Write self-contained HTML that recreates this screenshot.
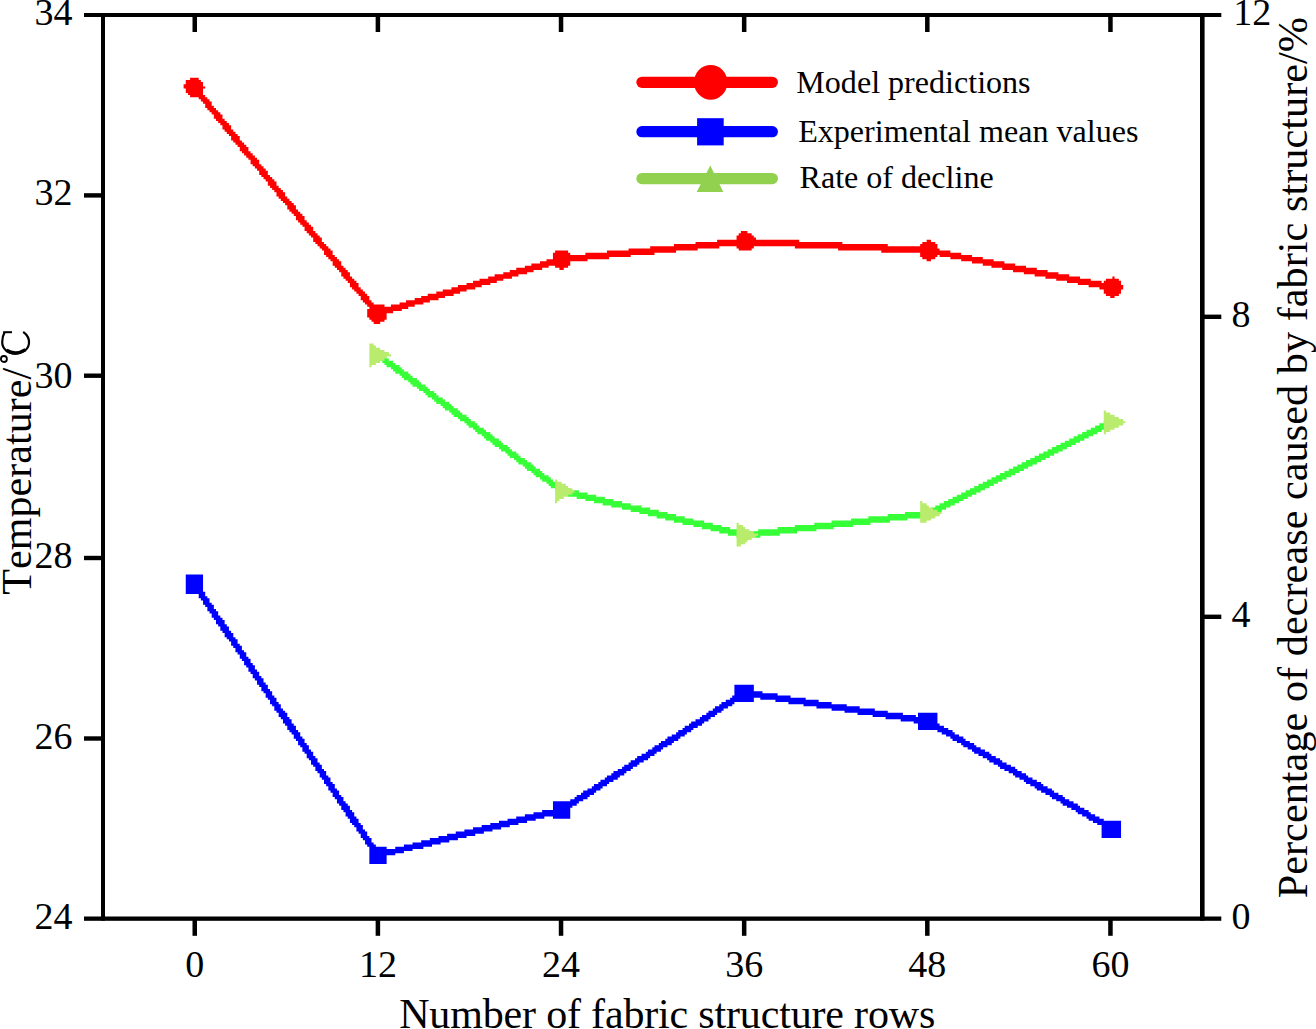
<!DOCTYPE html>
<html><head><meta charset="utf-8"><title>chart</title>
<style>
html,body{margin:0;padding:0;background:#fff;}
body{width:1316px;height:1029px;overflow:hidden;position:relative;font-family:"Liberation Serif", serif;}
svg{position:absolute;left:0;top:0;display:block;}
text{font-family:"Liberation Serif", serif;fill:#000;font-kerning:none;}
.tk{font-size:38px;}
.ax{font-size:41.8px;}
.lg{font-size:32.1px;}
</style></head><body>
<svg width="1316" height="1029" viewBox="0 0 1316 1029">
<rect x="0" y="0" width="1316" height="1029" fill="#fff"/>

<g fill="#000">
<rect x="84" y="13" width="1137.3" height="4"/>
<rect x="84" y="916.5" width="1137.3" height="4.3"/>
<rect x="101" y="13" width="4" height="907.6"/>
<rect x="1200" y="13" width="4.6" height="907.6"/>
<rect x="192.50" y="17" width="4.5" height="15"/>
<rect x="192.50" y="920" width="4.5" height="15.8"/>
<rect x="375.64" y="17" width="4.5" height="15"/>
<rect x="375.64" y="920" width="4.5" height="15.8"/>
<rect x="558.78" y="17" width="4.5" height="15"/>
<rect x="558.78" y="920" width="4.5" height="15.8"/>
<rect x="741.92" y="17" width="4.5" height="15"/>
<rect x="741.92" y="920" width="4.5" height="15.8"/>
<rect x="925.06" y="17" width="4.5" height="15"/>
<rect x="925.06" y="920" width="4.5" height="15.8"/>
<rect x="1108.20" y="17" width="4.5" height="15"/>
<rect x="1108.20" y="920" width="4.5" height="15.8"/>
<rect x="84" y="193.20" width="18" height="4.4"/>
<rect x="84" y="373.50" width="18" height="4.4"/>
<rect x="84" y="555.80" width="18" height="4.4"/>
<rect x="84" y="736.30" width="18" height="4.4"/>
<rect x="1204" y="314.60" width="17.3" height="4.4"/>
<rect x="1204" y="614.60" width="17.3" height="4.4"/>
</g>
<text class="tk" x="72.5" y="25.30" text-anchor="end">34</text>
<text class="tk" x="72.5" y="205.45" text-anchor="end">32</text>
<text class="tk" x="72.5" y="388.00" text-anchor="end">30</text>
<text class="tk" x="72.5" y="568.45" text-anchor="end">28</text>
<text class="tk" x="72.5" y="748.50" text-anchor="end">26</text>
<text class="tk" x="72.5" y="928.65" text-anchor="end">24</text>
<text class="tk" x="1233.2" y="25.20">12</text>
<text class="tk" x="1231.6" y="327.05">8</text>
<text class="tk" x="1231.6" y="627.05">4</text>
<text class="tk" x="1231.6" y="929.40">0</text>
<text class="tk" x="194.8" y="977.0" text-anchor="middle">0</text>
<text class="tk" x="377.9" y="977.0" text-anchor="middle">12</text>
<text class="tk" x="561.0" y="977.0" text-anchor="middle">24</text>
<text class="tk" x="744.2" y="977.0" text-anchor="middle">36</text>
<text class="tk" x="927.3" y="977.0" text-anchor="middle">48</text>
<text class="tk" x="1110.4" y="977.0" text-anchor="middle">60</text>
<text class="ax" x="399.2" y="1028.3" style="font-size:42px;letter-spacing:-0.17px">Number of fabric structure rows</text>
<text class="ax" transform="translate(30.6,594.8) rotate(-90)" style="font-size:42px;letter-spacing:0.07px">Temperature/</text>
<g fill="none" stroke="#000"><path d="M23.2 331.8 Q29.6 336.5 29.0 343.0 C28.5 350 22 353.6 15 353.6 C8 353.6 2.2 349 2.2 342 C2.2 338 3 335 4.5 332.6" stroke-width="2.2"/><path d="M3.2 332.2 L12 332.2" stroke-width="2"/><path d="M6.5 350.2 Q15.5 356 25.5 349.6" stroke-width="3.4"/><circle cx="3.9" cy="359" r="3.0" stroke-width="1.8"/></g>
<text class="ax" transform="translate(1307.2,898.3) rotate(-90)" style="font-size:42.34px">Percentage of decrease caused by fabric structure/%</text>
<g transform="scale(2.16)" fill-rule="nonzero">
<path fill="#ff0000" d="M85 39h1v-2h2v-1h4v1h1v1h1v2h1v1h-1v3h1v1h1v1h1v1h1v2h1v1h1v1h1v1h1v1h1v2h1v1h1v1h1v1h1v2h1v1h1v1h1v1h1v2h1v1h1v1h1v1h1v2h1v1h1v1h1v1h1v1h1v2h1v1h1v1h1v1h1v2h1v1h1v1h1v1h1v2h1v1h1v1h1v1h1v2h1v1h1v1h1v1h1v1h1v2h1v1h1v1h1v1h1v2h1v1h1v1h1v1h1v2h1v1h1v1h1v1h1v2h1v1h1v1h1v1h1v1h1v2h1v1h1v1h1v1h1v2h1v1h1v1h1v1h1v2h1v1h1v1h1v1h1v2h1v1h1v1h1v1h1v1h1v2h1v1h1v1h5v1h3v-1h4v-1h3v-1h4v-1h3v-1h3v-1h4v-1h3v-1h4v-1h3v-1h4v-1h3v-1h3v-1h4v-1h3v-1h4v-1h3v-1h3v-1h4v-1h3v-1h4v-1h3v-1h3v-3h1v-1h6v1h1v1h7v-1h10v-1h10v-1h10v-1h11v-1h10v-1h10v-1h9v-2h1v-1h1v-1h3v1h2v1h1v1h1v1h20v1h20v1h21v1h15v-1h1v-1h2v-1h2v1h2v1h1v2h1v1h5v1h5v1h5v1h5v1h5v1h5v1h5v1h5v1h5v1h5v1h5v1h5v1h5v1h5v1h5v1h1v-1h1v-1h3v-1h1v1h2v1h1v2h1v2h-1v2h-1v1h-2v1h-2v-1h-2v-1h-1v-2h-2v-1h-5v-1h-5v-1h-5v-1h-5v-1h-5v-1h-5v-1h-5v-1h-5v-1h-5v-1h-5v-1h-4v-1h-5v-1h-5v-1h-5v-1h-5v-1h-1v1h-1v1h-2v1h-2v-1h-2v-1h-1v-2h-18v-1h-20v-1h-20v-1h-19v1h-1v1h-6v-1h-1v-1h-8v1h-10v1h-10v1h-10v1h-11v1h-10v1h-10v1h-8v2h-1v1h-2v1h-2v-1h-2v-1h-3v1h-3v1h-4v1h-3v1h-4v1h-3v1h-4v1h-3v1h-3v1h-4v1h-3v1h-4v1h-3v1h-3v1h-4v1h-3v1h-4v1h-3v1h-4v1h-3v1h-3v1h-4v1h-3v3h-1v1h-2v1h-3v-1h-1v-1h-1v-1h-1v-4h1v-1h-1v-1h-1v-1h-1v-1h-1v-2h-1v-1h-1v-1h-1v-1h-1v-1h-1v-2h-1v-1h-1v-1h-1v-1h-1v-2h-1v-1h-1v-1h-1v-1h-1v-2h-1v-1h-1v-1h-1v-1h-1v-2h-1v-1h-1v-1h-1v-1h-1v-1h-1v-2h-1v-1h-1v-1h-1v-1h-1v-2h-1v-1h-1v-1h-1v-1h-1v-2h-1v-1h-1v-1h-1v-1h-1v-2h-1v-1h-1v-1h-1v-1h-1v-1h-1v-2h-1v-1h-1v-1h-1v-1h-1v-2h-1v-1h-1v-1h-1v-1h-1v-2h-1v-1h-1v-1h-1v-1h-1v-2h-1v-1h-1v-1h-1v-1h-1v-1h-1v-2h-1v-1h-1v-1h-1v-1h-1v-2h-1v-1h-1v-1h-1v-1h-1v-2h-1v-1h-1v-1h-1v-1h-1v-2h-1v-1h-1v-1h-1v-1h-1v-2h-1v-1h-1v-1h-1v-1h-4v-1h-1v-1h-1v-2h-1z"/>
<path fill="#0000ff" d="M86 266h8v8h1v2h1v1h1v2h1v1h1v2h1v1h1v2h1v1h1v1h1v2h1v1h1v2h1v1h1v2h1v1h1v2h1v1h1v2h1v1h1v2h1v1h1v2h1v1h1v2h1v1h1v2h1v1h1v2h1v1h1v2h1v1h1v2h1v1h1v2h1v1h1v2h1v1h1v1h1v2h1v1h1v2h1v1h1v2h1v1h1v2h1v1h1v2h1v1h1v2h1v1h1v2h1v1h1v2h1v1h1v2h1v1h1v2h1v1h1v2h1v1h1v2h1v1h1v2h1v1h1v2h1v1h1v1h1v2h1v1h1v2h1v1h1v2h1v1h1v2h1v1h1v2h1v1h1v2h1v1h1v1h5v1h4v-1h4v-1h4v-1h4v-1h4v-1h4v-1h4v-1h4v-1h4v-1h4v-1h4v-1h4v-1h4v-1h4v-1h4v-1h4v-1h4v-1h4v-1h5v-4h8v-1h2v-1h1v-1h2v-1h1v-1h2v-1h2v-1h1v-1h2v-1h1v-1h2v-1h1v-1h2v-1h1v-1h2v-1h2v-1h1v-1h2v-1h1v-1h2v-1h1v-1h2v-1h2v-1h1v-1h2v-1h1v-1h2v-1h1v-1h2v-1h1v-1h2v-1h2v-1h1v-1h2v-1h1v-1h2v-1h1v-1h2v-1h2v-1h1v-1h2v-1h1v-1h2v-1h1v-1h2v-1h1v-1h2v-1h2v-1h1v-1h1v-5h9v3h4v1h7v1h6v1h7v1h6v1h6v1h7v1h6v1h7v1h6v1h7v1h6v1h1v-2h9v5h1v1h2v1h2v1h2v1h1v1h2v1h2v1h1v1h2v1h2v1h1v1h2v1h2v1h2v1h1v1h2v1h2v1h1v1h2v1h2v1h2v1h1v1h2v1h2v1h1v1h2v1h2v1h2v1h1v1h2v1h2v1h1v1h2v1h2v1h1v1h2v1h2v1h2v1h1v1h2v1h2v1h1v1h2v1h2v1h2v1h8v8h-9v-6h-2v-1h-2v-1h-2v-1h-1v-1h-2v-1h-2v-1h-1v-1h-2v-1h-2v-1h-2v-1h-1v-1h-2v-1h-2v-1h-1v-1h-2v-1h-2v-1h-2v-1h-1v-1h-2v-1h-2v-1h-1v-1h-2v-1h-2v-1h-1v-1h-2v-1h-2v-1h-2v-1h-1v-1h-2v-1h-2v-1h-1v-1h-2v-1h-2v-1h-2v-1h-1v-1h-2v-1h-2v-1h-1v-1h-2v-1h-2v-1h-1v-1h-2v-1h-2v-1h-2v-1h-9v-3h-2v-1h-6v-1h-7v-1h-6v-1h-7v-1h-6v-1h-6v-1h-7v-1h-6v-1h-7v-1h-6v-1h-7v-1h-3v2h-9v1h-1v1h-2v1h-2v1h-1v1h-2v1h-1v1h-2v1h-1v1h-2v1h-1v1h-2v1h-2v1h-1v1h-2v1h-1v1h-2v1h-1v1h-2v1h-1v1h-2v1h-2v1h-1v1h-2v1h-1v1h-2v1h-1v1h-2v1h-2v1h-1v1h-2v1h-1v1h-2v1h-1v1h-2v1h-1v1h-2v1h-2v1h-1v1h-2v1h-1v1h-2v1h-1v1h-2v1h-1v1h-2v1h-2v1h-1v1h-2v1h-1v5h-8v-1h-4v1h-4v1h-4v1h-4v1h-4v1h-4v1h-4v1h-4v1h-4v1h-4v1h-4v1h-4v1h-4v1h-4v1h-4v1h-5v1h-4v1h-4v1h-4v4h-8v-8h-1v-1h-1v-2h-1v-1h-1v-2h-1v-1h-1v-2h-1v-1h-1v-1h-1v-2h-1v-1h-1v-2h-1v-1h-1v-2h-1v-1h-1v-2h-1v-1h-1v-2h-1v-1h-1v-2h-1v-1h-1v-2h-1v-1h-1v-2h-1v-1h-1v-2h-1v-1h-1v-2h-1v-1h-1v-2h-1v-1h-1v-2h-1v-1h-1v-2h-1v-1h-1v-2h-1v-1h-1v-1h-1v-2h-1v-1h-1v-2h-1v-1h-1v-2h-1v-1h-1v-2h-1v-1h-1v-2h-1v-1h-1v-2h-1v-1h-1v-2h-1v-1h-1v-2h-1v-1h-1v-2h-1v-1h-1v-2h-1v-1h-1v-2h-1v-1h-1v-2h-1v-1h-1v-2h-1v-1h-1v-2h-1v-1h-1v-1h-1v-2h-1v-1h-1v-2h-1v-1h-1v-2h-1v-1h-1v-2h-1v-1h-1v-2h-1v-1h-1v-2h-1v-1h-1v-2h-6z"/>
<path fill="#37ff37" d="M173 164h1v-1h2v1h2v1h1v1h1v1h2v1h1v1h2v1h1v1h1v1h2v1h1v1h1v1h2v1h1v1h1v1h2v1h1v1h1v1h2v1h1v1h1v1h2v1h1v1h2v1h1v1h1v1h2v1h1v1h1v1h2v1h1v1h1v1h2v1h1v1h1v1h2v1h1v1h2v1h1v1h1v1h2v1h1v1h1v1h2v1h1v1h1v1h2v1h1v1h1v1h2v1h1v1h2v1h1v1h1v1h2v1h1v1h1v1h2v1h1v1h1v1h2v1h1v1h1v1h4v1h4v1h4v1h4v1h4v1h4v1h4v1h4v1h5v1h4v1h4v1h4v1h4v1h4v1h4v1h5v1h4v1h4v1h4v1h4v1h9v-1h9v-1h8v-1h9v-1h8v-1h9v-1h8v-1h9v-1h8v-1h9v-1h3v-1h2v-1h2v-1h2v-1h2v-1h2v-1h2v-1h2v-1h2v-1h2v-1h2v-1h2v-1h2v-1h2v-1h2v-1h2v-1h2v-1h2v-1h2v-1h2v-1h2v-1h2v-1h2v-1h2v-1h2v-1h2v-1h2v-1h2v-1h2v-1h2v-1h2v-1h2v-1h2v-1h2v-1h2v-1h2v-1h2v-1h2v-1h2v-1h2v-1h2v-1h2v-1h3v3h-2v1h-2v1h-2v1h-2v1h-2v1h-2v1h-2v1h-2v1h-2v1h-2v1h-2v1h-2v1h-2v1h-2v1h-2v1h-2v1h-2v1h-2v1h-2v1h-2v1h-2v1h-2v1h-2v1h-2v1h-2v1h-2v1h-2v1h-2v1h-2v1h-2v1h-2v1h-2v1h-2v1h-2v1h-2v1h-2v1h-2v1h-2v1h-2v1h-2v1h-2v1h-2v1h-3v1h-9v1h-8v1h-9v1h-8v1h-9v1h-8v1h-9v1h-8v1h-9v1h-11v-1h-4v-1h-4v-1h-4v-1h-4v-1h-4v-1h-5v-1h-4v-1h-4v-1h-4v-1h-4v-1h-4v-1h-4v-1h-4v-1h-5v-1h-4v-1h-4v-1h-4v-1h-4v-1h-4v-1h-4v-1h-1v-1h-1v-1h-2v-1h-1v-1h-1v-1h-2v-1h-1v-1h-2v-1h-1v-1h-1v-1h-2v-1h-1v-1h-1v-1h-2v-1h-1v-1h-1v-1h-2v-1h-1v-1h-1v-1h-2v-1h-1v-1h-2v-1h-1v-1h-1v-1h-2v-1h-1v-1h-1v-1h-2v-1h-1v-1h-1v-1h-2v-1h-1v-1h-1v-1h-2v-1h-1v-1h-2v-1h-1v-1h-1v-1h-2v-1h-1v-1h-1v-1h-2v-1h-1v-1h-1v-1h-2v-1h-1v-1h-1v-1h-2v-1h-1v-1h-2v-1h-1v-1h-1v-1h-2v-1h-1v-1h-1v-1h-2v-1h-1v-1h-1v-1h-2v-1h-1v-1h-1v-1h-2v-1h-1v-1h-1z"/>
<path fill="#b9ec6d" d="M171 159h2v1h1v1h2v1h2v1h2v1h1v1h-2v1h-1v1h-2v1h-2v1h-2v1h-1zM257 222h1v1h2v1h2v1h1v1h2v1h1v1h-1v1h-2v1h-2v1h-2v1h-1v1h-1zM341 242h1v1h2v1h1v1h2v1h2v1h2v1h-1v1h-2v1h-2v1h-1v1h-2v1h-2zM426 232h1v1h2v1h1v1h2v1h2v1h2v1h-1v1h-2v1h-2v1h-2v1h-3zM511 190h1v1h2v1h2v1h2v1h2v1h1v1h-1v1h-2v1h-2v1h-2v1h-2v1h-1z"/>
</g>
<line x1="642" y1="82.3" x2="772.3" y2="82.3" stroke="#ff0000" stroke-width="11.3" stroke-linecap="round"/>
<ellipse cx="710.7" cy="82.3" rx="16.7" ry="17.4" fill="#ff0000"/>
<line x1="642" y1="131.7" x2="772.3" y2="131.7" stroke="#0000ff" stroke-width="11.3" stroke-linecap="round"/>
<rect x="697.1" y="118.2" width="26.6" height="27.2" fill="#0000ff"/>
<line x1="642" y1="178.6" x2="772.3" y2="178.6" stroke="#92d050" stroke-width="11.3" stroke-linecap="round"/>
<polygon points="710.3,165.6 696.7,191.9 723.3,191.9" fill="#92d050"/>
<text class="lg" x="796.3" y="92.5">Model predictions</text>
<text class="lg" x="798.2" y="142.3">Experimental mean values</text>
<text class="lg" x="799.5" y="188.3">Rate of decline</text>
</svg></body></html>
